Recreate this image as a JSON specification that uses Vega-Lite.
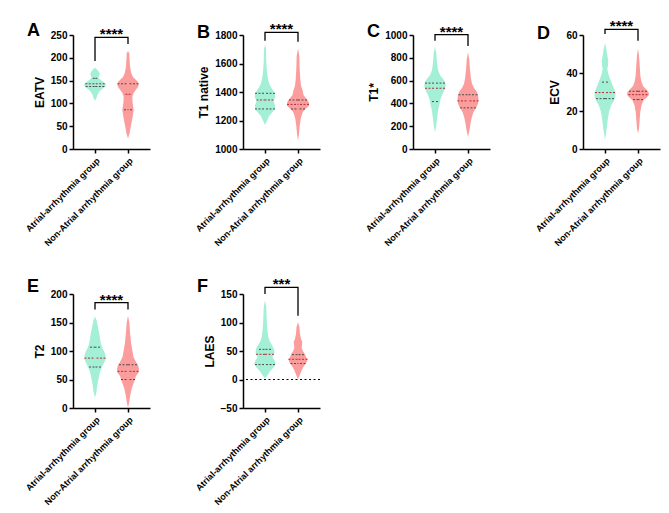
{
  "$schema": "https://vega.github.io/schema/vega-lite/v6.json",
  "padding": {"left": 23, "top": 19, "right": 5, "bottom": 5},
  "config": {
    "font": "Liberation Sans",
    "view": {"stroke": null},
    "axis": {"domainColor": "black", "domainWidth": 1.5, "tickColor": "black", "tickWidth": 1.5, "tickSize": 4, "labelColor": "black", "labelFontWeight": "bold", "labelFontSize": 10, "titleFontSize": 12, "titleFontWeight": "bold", "titleColor": "black", "titlePadding": 4, "grid": false},
    "axisY": {"format": "d"},
    "axisX": {"labelAngle": -45, "labelFontSize": 9, "labelPadding": 3},
    "title": {"fontSize": 18, "fontWeight": "bold", "anchor": "start", "frame": "group", "color": "black", "baseline": "alphabetic", "dx": -46}
  },
  "datasets": {
    "violin": [
      {"p":"A","g":1,"v":178,"d":0},{"p":"A","g":1,"v":175,"d":1.7},{"p":"A","g":1,"v":171,"d":3.3},{"p":"A","g":1,"v":166,"d":4.7},{"p":"A","g":1,"v":161,"d":4.3},{"p":"A","g":1,"v":156,"d":3.3},{"p":"A","g":1,"v":151,"d":6},{"p":"A","g":1,"v":146,"d":9.3},{"p":"A","g":1,"v":141,"d":11},{"p":"A","g":1,"v":136,"d":10},{"p":"A","g":1,"v":131,"d":6.7},{"p":"A","g":1,"v":125,"d":4},{"p":"A","g":1,"v":118,"d":2.3},{"p":"A","g":1,"v":111,"d":1.3},{"p":"A","g":1,"v":106,"d":0},
      {"p":"A","g":2,"v":215,"d":0},{"p":"A","g":2,"v":210,"d":1.3},{"p":"A","g":2,"v":191,"d":1.7},{"p":"A","g":2,"v":177,"d":2.3},{"p":"A","g":2,"v":166,"d":3.3},{"p":"A","g":2,"v":158,"d":5},{"p":"A","g":2,"v":153,"d":7.3},{"p":"A","g":2,"v":147,"d":10},{"p":"A","g":2,"v":141,"d":10.7},{"p":"A","g":2,"v":136,"d":10},{"p":"A","g":2,"v":129,"d":7.5},{"p":"A","g":2,"v":122,"d":5.5},{"p":"A","g":2,"v":114,"d":4.3},{"p":"A","g":2,"v":103,"d":4.5},{"p":"A","g":2,"v":92,"d":5.3},{"p":"A","g":2,"v":85,"d":5.7},{"p":"A","g":2,"v":76,"d":5},{"p":"A","g":2,"v":63,"d":4},{"p":"A","g":2,"v":48,"d":2.7},{"p":"A","g":2,"v":34,"d":1.5},{"p":"A","g":2,"v":23,"d":0},
      {"p":"B","g":1,"v":1730,"d":0},{"p":"B","g":1,"v":1702,"d":1},{"p":"B","g":1,"v":1608,"d":1.3},{"p":"B","g":1,"v":1538,"d":2},{"p":"B","g":1,"v":1491,"d":3},{"p":"B","g":1,"v":1456,"d":4.3},{"p":"B","g":1,"v":1433,"d":6},{"p":"B","g":1,"v":1409,"d":8.3},{"p":"B","g":1,"v":1386,"d":10},{"p":"B","g":1,"v":1363,"d":10.3},{"p":"B","g":1,"v":1339,"d":8.3},{"p":"B","g":1,"v":1309,"d":10},{"p":"B","g":1,"v":1281,"d":10},{"p":"B","g":1,"v":1253,"d":6.7},{"p":"B","g":1,"v":1229,"d":4},{"p":"B","g":1,"v":1199,"d":2},{"p":"B","g":1,"v":1168,"d":0},
      {"p":"B","g":2,"v":1706,"d":0},{"p":"B","g":2,"v":1655,"d":1.3},{"p":"B","g":2,"v":1561,"d":1.7},{"p":"B","g":2,"v":1491,"d":2.3},{"p":"B","g":2,"v":1444,"d":3},{"p":"B","g":2,"v":1409,"d":4.7},{"p":"B","g":2,"v":1379,"d":5.5},{"p":"B","g":2,"v":1356,"d":8},{"p":"B","g":2,"v":1339,"d":10},{"p":"B","g":2,"v":1323,"d":11},{"p":"B","g":2,"v":1304,"d":11},{"p":"B","g":2,"v":1285,"d":8},{"p":"B","g":2,"v":1262,"d":5},{"p":"B","g":2,"v":1239,"d":3.7},{"p":"B","g":2,"v":1211,"d":2.7},{"p":"B","g":2,"v":1164,"d":1.7},{"p":"B","g":2,"v":1105,"d":1},{"p":"B","g":2,"v":1058,"d":0},
      {"p":"C","g":1,"v":898,"d":0},{"p":"C","g":1,"v":843,"d":1.3},{"p":"C","g":1,"v":753,"d":2},{"p":"C","g":1,"v":693,"d":3},{"p":"C","g":1,"v":648,"d":5},{"p":"C","g":1,"v":617,"d":8},{"p":"C","g":1,"v":587,"d":10},{"p":"C","g":1,"v":557,"d":10.7},{"p":"C","g":1,"v":527,"d":10},{"p":"C","g":1,"v":482,"d":7.5},{"p":"C","g":1,"v":437,"d":5.5},{"p":"C","g":1,"v":392,"d":4.5},{"p":"C","g":1,"v":346,"d":3.3},{"p":"C","g":1,"v":286,"d":2.3},{"p":"C","g":1,"v":211,"d":1.3},{"p":"C","g":1,"v":145,"d":0},
      {"p":"C","g":2,"v":849,"d":0},{"p":"C","g":2,"v":783,"d":1.3},{"p":"C","g":2,"v":693,"d":2},{"p":"C","g":2,"v":617,"d":3},{"p":"C","g":2,"v":572,"d":4},{"p":"C","g":2,"v":536,"d":6},{"p":"C","g":2,"v":506,"d":8.5},{"p":"C","g":2,"v":476,"d":10},{"p":"C","g":2,"v":437,"d":10.5},{"p":"C","g":2,"v":398,"d":10},{"p":"C","g":2,"v":361,"d":8},{"p":"C","g":2,"v":325,"d":5.5},{"p":"C","g":2,"v":286,"d":4},{"p":"C","g":2,"v":235,"d":2.7},{"p":"C","g":2,"v":166,"d":1.5},{"p":"C","g":2,"v":105,"d":0},
      {"p":"D","g":1,"v":55.8,"d":0},{"p":"D","g":1,"v":52.7,"d":1.3},{"p":"D","g":1,"v":49.2,"d":2.3},{"p":"D","g":1,"v":46.6,"d":3.3},{"p":"D","g":1,"v":44,"d":3},{"p":"D","g":1,"v":42.2,"d":2.3},{"p":"D","g":1,"v":39.6,"d":3.3},{"p":"D","g":1,"v":37,"d":5},{"p":"D","g":1,"v":34.4,"d":7},{"p":"D","g":1,"v":31.7,"d":9},{"p":"D","g":1,"v":29.7,"d":10.5},{"p":"D","g":1,"v":27.4,"d":10.3},{"p":"D","g":1,"v":25.1,"d":8.5},{"p":"D","g":1,"v":22.7,"d":6},{"p":"D","g":1,"v":19.5,"d":4},{"p":"D","g":1,"v":15.2,"d":2.7},{"p":"D","g":1,"v":10.8,"d":1.7},{"p":"D","g":1,"v":4.7,"d":0},
      {"p":"D","g":2,"v":52.7,"d":0},{"p":"D","g":2,"v":49.2,"d":1},{"p":"D","g":2,"v":44,"d":1.7},{"p":"D","g":2,"v":38.7,"d":2.3},{"p":"D","g":2,"v":35.6,"d":3.3},{"p":"D","g":2,"v":33.1,"d":5},{"p":"D","g":2,"v":31.4,"d":8},{"p":"D","g":2,"v":30,"d":10.5},{"p":"D","g":2,"v":28.6,"d":11},{"p":"D","g":2,"v":27.2,"d":9},{"p":"D","g":2,"v":25.6,"d":5.5},{"p":"D","g":2,"v":23,"d":3.5},{"p":"D","g":2,"v":19.5,"d":2.3},{"p":"D","g":2,"v":14.3,"d":1.5},{"p":"D","g":2,"v":10.8,"d":1},{"p":"D","g":2,"v":8.2,"d":0},
      {"p":"E","g":1,"v":160.6,"d":0},{"p":"E","g":1,"v":153,"d":1.7},{"p":"E","g":1,"v":141.4,"d":3},{"p":"E","g":1,"v":129.9,"d":4.3},{"p":"E","g":1,"v":121.2,"d":5},{"p":"E","g":1,"v":112.5,"d":6},{"p":"E","g":1,"v":105,"d":7.5},{"p":"E","g":1,"v":98,"d":9.5},{"p":"E","g":1,"v":92.2,"d":10.5},{"p":"E","g":1,"v":86.4,"d":10.7},{"p":"E","g":1,"v":79.4,"d":9},{"p":"E","g":1,"v":71.9,"d":7},{"p":"E","g":1,"v":63.2,"d":5},{"p":"E","g":1,"v":52.8,"d":3.7},{"p":"E","g":1,"v":40,"d":2.3},{"p":"E","g":1,"v":28.4,"d":1.5},{"p":"E","g":1,"v":18,"d":0},
      {"p":"E","g":2,"v":161.7,"d":0},{"p":"E","g":2,"v":150,"d":1.3},{"p":"E","g":2,"v":132.8,"d":2},{"p":"E","g":2,"v":115.4,"d":3},{"p":"E","g":2,"v":100.9,"d":4.3},{"p":"E","g":2,"v":89.3,"d":5.5},{"p":"E","g":2,"v":80.6,"d":8},{"p":"E","g":2,"v":74.8,"d":10},{"p":"E","g":2,"v":69,"d":11},{"p":"E","g":2,"v":62,"d":10.5},{"p":"E","g":2,"v":56.2,"d":8},{"p":"E","g":2,"v":50.4,"d":7},{"p":"E","g":2,"v":42.9,"d":5.5},{"p":"E","g":2,"v":34.2,"d":3.7},{"p":"E","g":2,"v":22.6,"d":2.3},{"p":"E","g":2,"v":11,"d":1.3},{"p":"E","g":2,"v":0.6,"d":0},
      {"p":"F","g":1,"v":138.4,"d":0},{"p":"F","g":1,"v":126.7,"d":1.3},{"p":"F","g":1,"v":106.4,"d":1.7},{"p":"F","g":1,"v":89,"d":2.3},{"p":"F","g":1,"v":74.4,"d":3.3},{"p":"F","g":1,"v":65.7,"d":5},{"p":"F","g":1,"v":58.7,"d":7.5},{"p":"F","g":1,"v":52.9,"d":9},{"p":"F","g":1,"v":47.1,"d":9.5},{"p":"F","g":1,"v":42.4,"d":8},{"p":"F","g":1,"v":38.4,"d":7.5},{"p":"F","g":1,"v":33.7,"d":9.5},{"p":"F","g":1,"v":27.9,"d":10.7},{"p":"F","g":1,"v":22.1,"d":9},{"p":"F","g":1,"v":14.5,"d":5},{"p":"F","g":1,"v":7.6,"d":2.5},{"p":"F","g":1,"v":1.7,"d":0},
      {"p":"F","g":2,"v":100.6,"d":0},{"p":"F","g":2,"v":91.9,"d":1.5},{"p":"F","g":2,"v":80.2,"d":2},{"p":"F","g":2,"v":71.5,"d":3},{"p":"F","g":2,"v":65.7,"d":4.3},{"p":"F","g":2,"v":61,"d":4},{"p":"F","g":2,"v":55.2,"d":3.7},{"p":"F","g":2,"v":49.4,"d":5},{"p":"F","g":2,"v":44.2,"d":7},{"p":"F","g":2,"v":39.5,"d":8},{"p":"F","g":2,"v":34.9,"d":9.5},{"p":"F","g":2,"v":29.7,"d":8.5},{"p":"F","g":2,"v":23.8,"d":6},{"p":"F","g":2,"v":16.3,"d":3.7},{"p":"F","g":2,"v":8.7,"d":2},{"p":"F","g":2,"v":0.6,"d":0}
    ],
    "quartile": [
      {"p":"A","g":1,"v":155,"d":2.3,"s":"quartile"},{"p":"A","g":1,"v":143,"d":9.7,"s":"median"},{"p":"A","g":1,"v":137,"d":9.3,"s":"quartile"},
      {"p":"A","g":2,"v":143,"d":10.5,"s":"quartile"},{"p":"A","g":2,"v":120,"d":2.5,"s":"median"},{"p":"A","g":2,"v":86,"d":4,"s":"quartile"},
      {"p":"B","g":1,"v":1391,"d":10,"s":"quartile"},{"p":"B","g":1,"v":1344,"d":8.5,"s":"median"},{"p":"B","g":1,"v":1281,"d":10,"s":"quartile"},
      {"p":"B","g":2,"v":1344,"d":9,"s":"quartile"},{"p":"B","g":2,"v":1313,"d":11,"s":"median"},{"p":"B","g":2,"v":1281,"d":7,"s":"quartile"},
      {"p":"C","g":1,"v":578,"d":10,"s":"quartile"},{"p":"C","g":1,"v":533,"d":10,"s":"median"},{"p":"C","g":1,"v":416,"d":3,"s":"quartile"},
      {"p":"C","g":2,"v":476,"d":9.5,"s":"quartile"},{"p":"C","g":2,"v":422,"d":10.5,"s":"median"},{"p":"C","g":2,"v":361,"d":8,"s":"quartile"},
      {"p":"D","g":1,"v":35.2,"d":3,"s":"quartile"},{"p":"D","g":1,"v":29.7,"d":10,"s":"median"},{"p":"D","g":1,"v":26.5,"d":9,"s":"quartile"},
      {"p":"D","g":2,"v":30.4,"d":9,"s":"quartile"},{"p":"D","g":2,"v":28.6,"d":9.5,"s":"median"},{"p":"D","g":2,"v":26,"d":5,"s":"quartile"},
      {"p":"E","g":1,"v":106.7,"d":5,"s":"quartile"},{"p":"E","g":1,"v":87.5,"d":10.5,"s":"median"},{"p":"E","g":1,"v":71.9,"d":6,"s":"quartile"},
      {"p":"E","g":2,"v":75.9,"d":9,"s":"quartile"},{"p":"E","g":2,"v":64.3,"d":10.5,"s":"median"},{"p":"E","g":2,"v":49.9,"d":7,"s":"quartile"},
      {"p":"F","g":1,"v":52.9,"d":6,"s":"quartile"},{"p":"F","g":1,"v":44.2,"d":9,"s":"median"},{"p":"F","g":1,"v":26.2,"d":10,"s":"quartile"},
      {"p":"F","g":2,"v":43.6,"d":6,"s":"quartile"},{"p":"F","g":2,"v":35.5,"d":9.5,"s":"median"},{"p":"F","g":2,"v":28,"d":7.5,"s":"quartile"}
    ],
    "bracket": [
      {"p":"A","g":"Atrial-arrhythmia group","v":193,"o":1},{"p":"A","g":"Atrial-arrhythmia group","v":245,"o":2},{"p":"A","g":"Non-Atrial arrhythmia group","v":245,"o":3},{"p":"A","g":"Non-Atrial arrhythmia group","v":230,"o":4},
      {"p":"B","g":"Atrial-arrhythmia group","v":1760,"o":1},{"p":"B","g":"Atrial-arrhythmia group","v":1819,"o":2},{"p":"B","g":"Non-Atrial arrhythmia group","v":1819,"o":3},{"p":"B","g":"Non-Atrial arrhythmia group","v":1753,"o":4},
      {"p":"C","g":"Atrial-arrhythmia group","v":949,"o":1},{"p":"C","g":"Atrial-arrhythmia group","v":1003,"o":2},{"p":"C","g":"Non-Atrial arrhythmia group","v":1003,"o":3},{"p":"C","g":"Non-Atrial arrhythmia group","v":904,"o":4},
      {"p":"D","g":"Atrial-arrhythmia group","v":60.5,"o":1},{"p":"D","g":"Atrial-arrhythmia group","v":63,"o":2},{"p":"D","g":"Non-Atrial arrhythmia group","v":63,"o":3},{"p":"D","g":"Non-Atrial arrhythmia group","v":57,"o":4},
      {"p":"E","g":"Atrial-arrhythmia group","v":173,"o":1},{"p":"E","g":"Atrial-arrhythmia group","v":185,"o":2},{"p":"E","g":"Non-Atrial arrhythmia group","v":185,"o":3},{"p":"E","g":"Non-Atrial arrhythmia group","v":173,"o":4},
      {"p":"F","g":"Atrial-arrhythmia group","v":150,"o":1},{"p":"F","g":"Atrial-arrhythmia group","v":161.7,"o":2},{"p":"F","g":"Non-Atrial arrhythmia group","v":161.7,"o":3},{"p":"F","g":"Non-Atrial arrhythmia group","v":112,"o":4}
    ],
    "sig": [
      {"p":"A","label":"****","v":245},{"p":"B","label":"****","v":1819},{"p":"C","label":"****","v":1003},
      {"p":"D","label":"****","v":63},{"p":"E","label":"****","v":185},{"p":"F","label":"***","v":161.7}
    ]
  },
  "columns": 4,
  "bounds": "flush",
  "spacing": {"row": 145, "column": 93},
  "concat": [
    {
      "title": {"text": "A", "offset": -13}, "width": 77, "height": 114,
      "encoding": {"y": {"field": "v", "type": "quantitative", "scale": {"domain": [0, 250], "nice": false, "zero": false}, "axis": {"title": "EATV", "values": [0, 50, 100, 150, 200, 250]}}},
      "layer": [
        {"encoding": {"x": {"field": "d", "type": "quantitative", "scale": {"domain": [-22, 55], "nice": false, "zero": false}, "axis": null}},
         "layer": [
          {"data": {"name": "violin"}, "transform": [{"filter": "datum.p == 'A' && datum.g == 1"}], "mark": {"type": "area", "orient": "horizontal", "color": "#a3f0d6", "opacity": 1}},
          {"data": {"name": "quartile"}, "transform": [{"filter": "datum.p == 'A' && datum.g == 1"}], "mark": {"type": "rule", "strokeDash": [2, 1.5], "strokeWidth": 1}, "encoding": {"x2": {"datum": 0}, "color": {"field": "s", "type": "nominal", "scale": {"domain": ["median", "quartile"], "range": ["#b22d35", "#4d4d4d"]}, "legend": null}}}
        ]},
        {"encoding": {"x": {"field": "d", "type": "quantitative", "scale": {"domain": [-55, 22], "reverse": true, "nice": false, "zero": false}, "axis": null}},
         "layer": [
          {"data": {"name": "violin"}, "transform": [{"filter": "datum.p == 'A' && datum.g == 1"}], "mark": {"type": "area", "orient": "horizontal", "color": "#a3f0d6", "opacity": 1}},
          {"data": {"name": "quartile"}, "transform": [{"filter": "datum.p == 'A' && datum.g == 1"}], "mark": {"type": "rule", "strokeDash": [2, 1.5], "strokeWidth": 1}, "encoding": {"x2": {"datum": 0}, "color": {"field": "s", "type": "nominal", "scale": {"domain": ["median", "quartile"], "range": ["#b22d35", "#4d4d4d"]}, "legend": null}}}
        ]},
        {"encoding": {"x": {"field": "d", "type": "quantitative", "scale": {"domain": [-55, 22], "nice": false, "zero": false}, "axis": null}},
         "layer": [
          {"data": {"name": "violin"}, "transform": [{"filter": "datum.p == 'A' && datum.g == 2"}], "mark": {"type": "area", "orient": "horizontal", "color": "#fc9d9d", "opacity": 1}},
          {"data": {"name": "quartile"}, "transform": [{"filter": "datum.p == 'A' && datum.g == 2"}], "mark": {"type": "rule", "strokeDash": [2, 1.5], "strokeWidth": 1}, "encoding": {"x2": {"datum": 0}, "color": {"field": "s", "type": "nominal", "scale": {"domain": ["median", "quartile"], "range": ["#b22d35", "#4d4d4d"]}, "legend": null}}}
        ]},
        {"encoding": {"x": {"field": "d", "type": "quantitative", "scale": {"domain": [-22, 55], "reverse": true, "nice": false, "zero": false}, "axis": null}},
         "layer": [
          {"data": {"name": "violin"}, "transform": [{"filter": "datum.p == 'A' && datum.g == 2"}], "mark": {"type": "area", "orient": "horizontal", "color": "#fc9d9d", "opacity": 1}},
          {"data": {"name": "quartile"}, "transform": [{"filter": "datum.p == 'A' && datum.g == 2"}], "mark": {"type": "rule", "strokeDash": [2, 1.5], "strokeWidth": 1}, "encoding": {"x2": {"datum": 0}, "color": {"field": "s", "type": "nominal", "scale": {"domain": ["median", "quartile"], "range": ["#b22d35", "#4d4d4d"]}, "legend": null}}}
        ]},
        {"data": {"name": "bracket"}, "transform": [{"filter": "datum.p == 'A'"}], "mark": {"type": "line", "color": "black", "strokeWidth": 1.3}, "encoding": {"x": {"field": "g", "type": "nominal", "scale": {"type": "point", "padding": 0.667}, "title": null}, "order": {"field": "o"}}},
        {"data": {"name": "sig"}, "transform": [{"filter": "datum.p == 'A'"}], "mark": {"type": "text", "fontSize": 15, "fontWeight": "bold", "baseline": "alphabetic", "dy": 2}, "encoding": {"text": {"field": "label"}}}
      ],
      "resolve": {"scale": {"x": "independent"}}
    },
    {
      "title": {"text": "B", "offset": -20}, "width": 77, "height": 114,
      "encoding": {"y": {"field": "v", "type": "quantitative", "scale": {"domain": [1000, 1800], "nice": false, "zero": false}, "axis": {"title": "T1 native", "values": [1000, 1200, 1400, 1600, 1800]}}},
      "layer": [
        {"encoding": {"x": {"field": "d", "type": "quantitative", "scale": {"domain": [-22, 55], "nice": false, "zero": false}, "axis": null}},
         "layer": [
          {"data": {"name": "violin"}, "transform": [{"filter": "datum.p == 'B' && datum.g == 1"}], "mark": {"type": "area", "orient": "horizontal", "color": "#a3f0d6", "opacity": 1}},
          {"data": {"name": "quartile"}, "transform": [{"filter": "datum.p == 'B' && datum.g == 1"}], "mark": {"type": "rule", "strokeDash": [2, 1.5], "strokeWidth": 1}, "encoding": {"x2": {"datum": 0}, "color": {"field": "s", "type": "nominal", "scale": {"domain": ["median", "quartile"], "range": ["#b22d35", "#4d4d4d"]}, "legend": null}}}
        ]},
        {"encoding": {"x": {"field": "d", "type": "quantitative", "scale": {"domain": [-55, 22], "reverse": true, "nice": false, "zero": false}, "axis": null}},
         "layer": [
          {"data": {"name": "violin"}, "transform": [{"filter": "datum.p == 'B' && datum.g == 1"}], "mark": {"type": "area", "orient": "horizontal", "color": "#a3f0d6", "opacity": 1}},
          {"data": {"name": "quartile"}, "transform": [{"filter": "datum.p == 'B' && datum.g == 1"}], "mark": {"type": "rule", "strokeDash": [2, 1.5], "strokeWidth": 1}, "encoding": {"x2": {"datum": 0}, "color": {"field": "s", "type": "nominal", "scale": {"domain": ["median", "quartile"], "range": ["#b22d35", "#4d4d4d"]}, "legend": null}}}
        ]},
        {"encoding": {"x": {"field": "d", "type": "quantitative", "scale": {"domain": [-55, 22], "nice": false, "zero": false}, "axis": null}},
         "layer": [
          {"data": {"name": "violin"}, "transform": [{"filter": "datum.p == 'B' && datum.g == 2"}], "mark": {"type": "area", "orient": "horizontal", "color": "#fc9d9d", "opacity": 1}},
          {"data": {"name": "quartile"}, "transform": [{"filter": "datum.p == 'B' && datum.g == 2"}], "mark": {"type": "rule", "strokeDash": [2, 1.5], "strokeWidth": 1}, "encoding": {"x2": {"datum": 0}, "color": {"field": "s", "type": "nominal", "scale": {"domain": ["median", "quartile"], "range": ["#b22d35", "#4d4d4d"]}, "legend": null}}}
        ]},
        {"encoding": {"x": {"field": "d", "type": "quantitative", "scale": {"domain": [-22, 55], "reverse": true, "nice": false, "zero": false}, "axis": null}},
         "layer": [
          {"data": {"name": "violin"}, "transform": [{"filter": "datum.p == 'B' && datum.g == 2"}], "mark": {"type": "area", "orient": "horizontal", "color": "#fc9d9d", "opacity": 1}},
          {"data": {"name": "quartile"}, "transform": [{"filter": "datum.p == 'B' && datum.g == 2"}], "mark": {"type": "rule", "strokeDash": [2, 1.5], "strokeWidth": 1}, "encoding": {"x2": {"datum": 0}, "color": {"field": "s", "type": "nominal", "scale": {"domain": ["median", "quartile"], "range": ["#b22d35", "#4d4d4d"]}, "legend": null}}}
        ]},
        {"data": {"name": "bracket"}, "transform": [{"filter": "datum.p == 'B'"}], "mark": {"type": "line", "color": "black", "strokeWidth": 1.3}, "encoding": {"x": {"field": "g", "type": "nominal", "scale": {"type": "point", "padding": 0.667}, "title": null}, "order": {"field": "o"}}},
        {"data": {"name": "sig"}, "transform": [{"filter": "datum.p == 'B'"}], "mark": {"type": "text", "fontSize": 15, "fontWeight": "bold", "baseline": "alphabetic", "dy": 2}, "encoding": {"text": {"field": "label"}}}
      ],
      "resolve": {"scale": {"x": "independent"}}
    },
    {
      "title": {"text": "C", "offset": -16}, "width": 77, "height": 114,
      "encoding": {"y": {"field": "v", "type": "quantitative", "scale": {"domain": [0, 1000], "nice": false, "zero": false}, "axis": {"title": "T1*", "values": [0, 200, 400, 600, 800, 1000]}}},
      "layer": [
        {"encoding": {"x": {"field": "d", "type": "quantitative", "scale": {"domain": [-22, 55], "nice": false, "zero": false}, "axis": null}},
         "layer": [
          {"data": {"name": "violin"}, "transform": [{"filter": "datum.p == 'C' && datum.g == 1"}], "mark": {"type": "area", "orient": "horizontal", "color": "#a3f0d6", "opacity": 1}},
          {"data": {"name": "quartile"}, "transform": [{"filter": "datum.p == 'C' && datum.g == 1"}], "mark": {"type": "rule", "strokeDash": [2, 1.5], "strokeWidth": 1}, "encoding": {"x2": {"datum": 0}, "color": {"field": "s", "type": "nominal", "scale": {"domain": ["median", "quartile"], "range": ["#b22d35", "#4d4d4d"]}, "legend": null}}}
        ]},
        {"encoding": {"x": {"field": "d", "type": "quantitative", "scale": {"domain": [-55, 22], "reverse": true, "nice": false, "zero": false}, "axis": null}},
         "layer": [
          {"data": {"name": "violin"}, "transform": [{"filter": "datum.p == 'C' && datum.g == 1"}], "mark": {"type": "area", "orient": "horizontal", "color": "#a3f0d6", "opacity": 1}},
          {"data": {"name": "quartile"}, "transform": [{"filter": "datum.p == 'C' && datum.g == 1"}], "mark": {"type": "rule", "strokeDash": [2, 1.5], "strokeWidth": 1}, "encoding": {"x2": {"datum": 0}, "color": {"field": "s", "type": "nominal", "scale": {"domain": ["median", "quartile"], "range": ["#b22d35", "#4d4d4d"]}, "legend": null}}}
        ]},
        {"encoding": {"x": {"field": "d", "type": "quantitative", "scale": {"domain": [-55, 22], "nice": false, "zero": false}, "axis": null}},
         "layer": [
          {"data": {"name": "violin"}, "transform": [{"filter": "datum.p == 'C' && datum.g == 2"}], "mark": {"type": "area", "orient": "horizontal", "color": "#fc9d9d", "opacity": 1}},
          {"data": {"name": "quartile"}, "transform": [{"filter": "datum.p == 'C' && datum.g == 2"}], "mark": {"type": "rule", "strokeDash": [2, 1.5], "strokeWidth": 1}, "encoding": {"x2": {"datum": 0}, "color": {"field": "s", "type": "nominal", "scale": {"domain": ["median", "quartile"], "range": ["#b22d35", "#4d4d4d"]}, "legend": null}}}
        ]},
        {"encoding": {"x": {"field": "d", "type": "quantitative", "scale": {"domain": [-22, 55], "reverse": true, "nice": false, "zero": false}, "axis": null}},
         "layer": [
          {"data": {"name": "violin"}, "transform": [{"filter": "datum.p == 'C' && datum.g == 2"}], "mark": {"type": "area", "orient": "horizontal", "color": "#fc9d9d", "opacity": 1}},
          {"data": {"name": "quartile"}, "transform": [{"filter": "datum.p == 'C' && datum.g == 2"}], "mark": {"type": "rule", "strokeDash": [2, 1.5], "strokeWidth": 1}, "encoding": {"x2": {"datum": 0}, "color": {"field": "s", "type": "nominal", "scale": {"domain": ["median", "quartile"], "range": ["#b22d35", "#4d4d4d"]}, "legend": null}}}
        ]},
        {"data": {"name": "bracket"}, "transform": [{"filter": "datum.p == 'C'"}], "mark": {"type": "line", "color": "black", "strokeWidth": 1.3}, "encoding": {"x": {"field": "g", "type": "nominal", "scale": {"type": "point", "padding": 0.667}, "title": null}, "order": {"field": "o"}}},
        {"data": {"name": "sig"}, "transform": [{"filter": "datum.p == 'C'"}], "mark": {"type": "text", "fontSize": 15, "fontWeight": "bold", "baseline": "alphabetic", "dy": 2}, "encoding": {"text": {"field": "label"}}}
      ],
      "resolve": {"scale": {"x": "independent"}}
    },
    {
      "title": {"text": "D", "offset": -24}, "width": 77, "height": 114,
      "encoding": {"y": {"field": "v", "type": "quantitative", "scale": {"domain": [0, 60], "nice": false, "zero": false}, "axis": {"title": "ECV", "values": [0, 20, 40, 60]}}},
      "layer": [
        {"encoding": {"x": {"field": "d", "type": "quantitative", "scale": {"domain": [-22, 55], "nice": false, "zero": false}, "axis": null}},
         "layer": [
          {"data": {"name": "violin"}, "transform": [{"filter": "datum.p == 'D' && datum.g == 1"}], "mark": {"type": "area", "orient": "horizontal", "color": "#a3f0d6", "opacity": 1}},
          {"data": {"name": "quartile"}, "transform": [{"filter": "datum.p == 'D' && datum.g == 1"}], "mark": {"type": "rule", "strokeDash": [2, 1.5], "strokeWidth": 1}, "encoding": {"x2": {"datum": 0}, "color": {"field": "s", "type": "nominal", "scale": {"domain": ["median", "quartile"], "range": ["#b22d35", "#4d4d4d"]}, "legend": null}}}
        ]},
        {"encoding": {"x": {"field": "d", "type": "quantitative", "scale": {"domain": [-55, 22], "reverse": true, "nice": false, "zero": false}, "axis": null}},
         "layer": [
          {"data": {"name": "violin"}, "transform": [{"filter": "datum.p == 'D' && datum.g == 1"}], "mark": {"type": "area", "orient": "horizontal", "color": "#a3f0d6", "opacity": 1}},
          {"data": {"name": "quartile"}, "transform": [{"filter": "datum.p == 'D' && datum.g == 1"}], "mark": {"type": "rule", "strokeDash": [2, 1.5], "strokeWidth": 1}, "encoding": {"x2": {"datum": 0}, "color": {"field": "s", "type": "nominal", "scale": {"domain": ["median", "quartile"], "range": ["#b22d35", "#4d4d4d"]}, "legend": null}}}
        ]},
        {"encoding": {"x": {"field": "d", "type": "quantitative", "scale": {"domain": [-55, 22], "nice": false, "zero": false}, "axis": null}},
         "layer": [
          {"data": {"name": "violin"}, "transform": [{"filter": "datum.p == 'D' && datum.g == 2"}], "mark": {"type": "area", "orient": "horizontal", "color": "#fc9d9d", "opacity": 1}},
          {"data": {"name": "quartile"}, "transform": [{"filter": "datum.p == 'D' && datum.g == 2"}], "mark": {"type": "rule", "strokeDash": [2, 1.5], "strokeWidth": 1}, "encoding": {"x2": {"datum": 0}, "color": {"field": "s", "type": "nominal", "scale": {"domain": ["median", "quartile"], "range": ["#b22d35", "#4d4d4d"]}, "legend": null}}}
        ]},
        {"encoding": {"x": {"field": "d", "type": "quantitative", "scale": {"domain": [-22, 55], "reverse": true, "nice": false, "zero": false}, "axis": null}},
         "layer": [
          {"data": {"name": "violin"}, "transform": [{"filter": "datum.p == 'D' && datum.g == 2"}], "mark": {"type": "area", "orient": "horizontal", "color": "#fc9d9d", "opacity": 1}},
          {"data": {"name": "quartile"}, "transform": [{"filter": "datum.p == 'D' && datum.g == 2"}], "mark": {"type": "rule", "strokeDash": [2, 1.5], "strokeWidth": 1}, "encoding": {"x2": {"datum": 0}, "color": {"field": "s", "type": "nominal", "scale": {"domain": ["median", "quartile"], "range": ["#b22d35", "#4d4d4d"]}, "legend": null}}}
        ]},
        {"data": {"name": "bracket"}, "transform": [{"filter": "datum.p == 'D'"}], "mark": {"type": "line", "color": "black", "strokeWidth": 1.3}, "encoding": {"x": {"field": "g", "type": "nominal", "scale": {"type": "point", "padding": 0.667}, "title": null}, "order": {"field": "o"}}},
        {"data": {"name": "sig"}, "transform": [{"filter": "datum.p == 'D'"}], "mark": {"type": "text", "fontSize": 15, "fontWeight": "bold", "baseline": "alphabetic", "dy": 2}, "encoding": {"text": {"field": "label"}}}
      ],
      "resolve": {"scale": {"x": "independent"}}
    },
    {
      "title": {"text": "E", "offset": -7}, "width": 77, "height": 114,
      "encoding": {"y": {"field": "v", "type": "quantitative", "scale": {"domain": [0, 200], "nice": false, "zero": false}, "axis": {"title": "T2", "values": [0, 50, 100, 150, 200]}}},
      "layer": [
        {"encoding": {"x": {"field": "d", "type": "quantitative", "scale": {"domain": [-22, 55], "nice": false, "zero": false}, "axis": null}},
         "layer": [
          {"data": {"name": "violin"}, "transform": [{"filter": "datum.p == 'E' && datum.g == 1"}], "mark": {"type": "area", "orient": "horizontal", "color": "#a3f0d6", "opacity": 1}},
          {"data": {"name": "quartile"}, "transform": [{"filter": "datum.p == 'E' && datum.g == 1"}], "mark": {"type": "rule", "strokeDash": [2, 1.5], "strokeWidth": 1}, "encoding": {"x2": {"datum": 0}, "color": {"field": "s", "type": "nominal", "scale": {"domain": ["median", "quartile"], "range": ["#b22d35", "#4d4d4d"]}, "legend": null}}}
        ]},
        {"encoding": {"x": {"field": "d", "type": "quantitative", "scale": {"domain": [-55, 22], "reverse": true, "nice": false, "zero": false}, "axis": null}},
         "layer": [
          {"data": {"name": "violin"}, "transform": [{"filter": "datum.p == 'E' && datum.g == 1"}], "mark": {"type": "area", "orient": "horizontal", "color": "#a3f0d6", "opacity": 1}},
          {"data": {"name": "quartile"}, "transform": [{"filter": "datum.p == 'E' && datum.g == 1"}], "mark": {"type": "rule", "strokeDash": [2, 1.5], "strokeWidth": 1}, "encoding": {"x2": {"datum": 0}, "color": {"field": "s", "type": "nominal", "scale": {"domain": ["median", "quartile"], "range": ["#b22d35", "#4d4d4d"]}, "legend": null}}}
        ]},
        {"encoding": {"x": {"field": "d", "type": "quantitative", "scale": {"domain": [-55, 22], "nice": false, "zero": false}, "axis": null}},
         "layer": [
          {"data": {"name": "violin"}, "transform": [{"filter": "datum.p == 'E' && datum.g == 2"}], "mark": {"type": "area", "orient": "horizontal", "color": "#fc9d9d", "opacity": 1}},
          {"data": {"name": "quartile"}, "transform": [{"filter": "datum.p == 'E' && datum.g == 2"}], "mark": {"type": "rule", "strokeDash": [2, 1.5], "strokeWidth": 1}, "encoding": {"x2": {"datum": 0}, "color": {"field": "s", "type": "nominal", "scale": {"domain": ["median", "quartile"], "range": ["#b22d35", "#4d4d4d"]}, "legend": null}}}
        ]},
        {"encoding": {"x": {"field": "d", "type": "quantitative", "scale": {"domain": [-22, 55], "reverse": true, "nice": false, "zero": false}, "axis": null}},
         "layer": [
          {"data": {"name": "violin"}, "transform": [{"filter": "datum.p == 'E' && datum.g == 2"}], "mark": {"type": "area", "orient": "horizontal", "color": "#fc9d9d", "opacity": 1}},
          {"data": {"name": "quartile"}, "transform": [{"filter": "datum.p == 'E' && datum.g == 2"}], "mark": {"type": "rule", "strokeDash": [2, 1.5], "strokeWidth": 1}, "encoding": {"x2": {"datum": 0}, "color": {"field": "s", "type": "nominal", "scale": {"domain": ["median", "quartile"], "range": ["#b22d35", "#4d4d4d"]}, "legend": null}}}
        ]},
        {"data": {"name": "bracket"}, "transform": [{"filter": "datum.p == 'E'"}], "mark": {"type": "line", "color": "black", "strokeWidth": 1.3}, "encoding": {"x": {"field": "g", "type": "nominal", "scale": {"type": "point", "padding": 0.667}, "title": null}, "order": {"field": "o"}}},
        {"data": {"name": "sig"}, "transform": [{"filter": "datum.p == 'E'"}], "mark": {"type": "text", "fontSize": 15, "fontWeight": "bold", "baseline": "alphabetic", "dy": 2}, "encoding": {"text": {"field": "label"}}}
      ],
      "resolve": {"scale": {"x": "independent"}}
    },
    {
      "title": {"text": "F", "offset": -19}, "width": 77, "height": 114,
      "encoding": {"y": {"field": "v", "type": "quantitative", "scale": {"domain": [-50, 150], "nice": false, "zero": false}, "axis": {"title": "LAES", "values": [-50, 0, 50, 100, 150]}}},
      "layer": [
        {"encoding": {"x": {"field": "d", "type": "quantitative", "scale": {"domain": [-22, 55], "nice": false, "zero": false}, "axis": null}},
         "layer": [
          {"data": {"name": "violin"}, "transform": [{"filter": "datum.p == 'F' && datum.g == 1"}], "mark": {"type": "area", "orient": "horizontal", "color": "#a3f0d6", "opacity": 1}},
          {"data": {"name": "quartile"}, "transform": [{"filter": "datum.p == 'F' && datum.g == 1"}], "mark": {"type": "rule", "strokeDash": [2, 1.5], "strokeWidth": 1}, "encoding": {"x2": {"datum": 0}, "color": {"field": "s", "type": "nominal", "scale": {"domain": ["median", "quartile"], "range": ["#b22d35", "#4d4d4d"]}, "legend": null}}}
        ]},
        {"encoding": {"x": {"field": "d", "type": "quantitative", "scale": {"domain": [-55, 22], "reverse": true, "nice": false, "zero": false}, "axis": null}},
         "layer": [
          {"data": {"name": "violin"}, "transform": [{"filter": "datum.p == 'F' && datum.g == 1"}], "mark": {"type": "area", "orient": "horizontal", "color": "#a3f0d6", "opacity": 1}},
          {"data": {"name": "quartile"}, "transform": [{"filter": "datum.p == 'F' && datum.g == 1"}], "mark": {"type": "rule", "strokeDash": [2, 1.5], "strokeWidth": 1}, "encoding": {"x2": {"datum": 0}, "color": {"field": "s", "type": "nominal", "scale": {"domain": ["median", "quartile"], "range": ["#b22d35", "#4d4d4d"]}, "legend": null}}}
        ]},
        {"encoding": {"x": {"field": "d", "type": "quantitative", "scale": {"domain": [-55, 22], "nice": false, "zero": false}, "axis": null}},
         "layer": [
          {"data": {"name": "violin"}, "transform": [{"filter": "datum.p == 'F' && datum.g == 2"}], "mark": {"type": "area", "orient": "horizontal", "color": "#fc9d9d", "opacity": 1}},
          {"data": {"name": "quartile"}, "transform": [{"filter": "datum.p == 'F' && datum.g == 2"}], "mark": {"type": "rule", "strokeDash": [2, 1.5], "strokeWidth": 1}, "encoding": {"x2": {"datum": 0}, "color": {"field": "s", "type": "nominal", "scale": {"domain": ["median", "quartile"], "range": ["#b22d35", "#4d4d4d"]}, "legend": null}}}
        ]},
        {"encoding": {"x": {"field": "d", "type": "quantitative", "scale": {"domain": [-22, 55], "reverse": true, "nice": false, "zero": false}, "axis": null}},
         "layer": [
          {"data": {"name": "violin"}, "transform": [{"filter": "datum.p == 'F' && datum.g == 2"}], "mark": {"type": "area", "orient": "horizontal", "color": "#fc9d9d", "opacity": 1}},
          {"data": {"name": "quartile"}, "transform": [{"filter": "datum.p == 'F' && datum.g == 2"}], "mark": {"type": "rule", "strokeDash": [2, 1.5], "strokeWidth": 1}, "encoding": {"x2": {"datum": 0}, "color": {"field": "s", "type": "nominal", "scale": {"domain": ["median", "quartile"], "range": ["#b22d35", "#4d4d4d"]}, "legend": null}}}
        ]},
        {"data": {"name": "sig"}, "transform": [{"filter": "datum.p == 'F'"}], "mark": {"type": "rule", "color": "black", "strokeDash": [2, 2.5], "strokeWidth": 1}, "encoding": {"y": {"datum": 0}}},
        {"data": {"name": "bracket"}, "transform": [{"filter": "datum.p == 'F'"}], "mark": {"type": "line", "color": "black", "strokeWidth": 1.3}, "encoding": {"x": {"field": "g", "type": "nominal", "scale": {"type": "point", "padding": 0.667}, "title": null}, "order": {"field": "o"}}},
        {"data": {"name": "sig"}, "transform": [{"filter": "datum.p == 'F'"}], "mark": {"type": "text", "fontSize": 15, "fontWeight": "bold", "baseline": "alphabetic", "dy": 2}, "encoding": {"text": {"field": "label"}}}
      ],
      "resolve": {"scale": {"x": "independent"}}
    }
  ]
}
